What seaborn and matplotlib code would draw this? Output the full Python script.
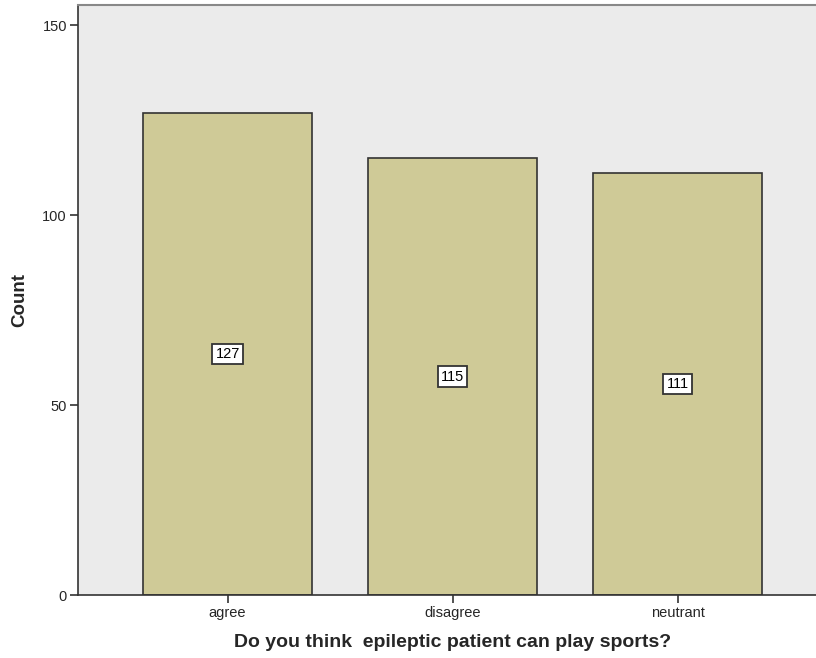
import matplotlib
matplotlib.use("Agg")
import matplotlib.pyplot as plt
import seaborn as sns
import pandas as pd

# Responses to the survey question
categories = ["agree", "disagree", "neutrant"]
counts = [127, 115, 111]

df = pd.DataFrame({"answer": categories, "count": counts})

sns.set_theme(style="white")
plt.rcParams["font.family"] = ["Liberation Sans", "DejaVu Sans"]

fig = plt.figure(figsize=(8.16, 6.58), dpi=100)
ax = fig.add_axes([0.0956, 0.0957, 0.918, 0.8967])
ax.set_facecolor("#ebebeb")

sns.barplot(data=df, x="answer", y="count", ax=ax, color="#cfca97",
            saturation=1, width=0.75, edgecolor="#333333", linewidth=1.2)

for i, v in enumerate(counts):
    ax.text(i, v / 2, str(v), ha="center", va="center", fontsize=10.5,
            color="black",
            bbox=dict(boxstyle="square,pad=0.22", facecolor="white",
                      edgecolor="#333333", linewidth=1.3))

ax.set_xlim(-0.665, 2.665)
ax.set_ylim(0, 155.3)
ax.set_yticks([0, 50, 100, 150])

ax.set_xlabel("Do you think  epileptic patient can play sports?",
              fontsize=14, fontweight="bold", labelpad=10)
ax.set_ylabel("Count", fontsize=13.5, fontweight="bold", labelpad=10)

ax.tick_params(axis="both", which="both", direction="out", length=6,
               width=1.2, color="#333333", labelsize=10.5, pad=2,
               bottom=True, left=True)

for side in ["left", "bottom"]:
    ax.spines[side].set_color("#333333")
    ax.spines[side].set_linewidth(1.2)
ax.spines["top"].set_color("#888888")
ax.spines["top"].set_linewidth(1.5)
ax.spines["right"].set_visible(False)

fig.savefig("out.png", dpi=100)
